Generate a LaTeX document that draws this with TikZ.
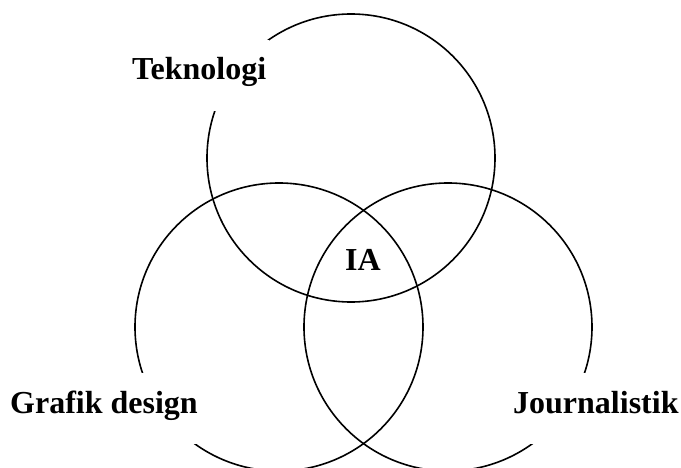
\documentclass[tikz,border=0pt]{standalone}
\usepackage{fontspec}
\setmainfont{Liberation Serif}
\begin{document}
\begin{tikzpicture}[x=1pt,y=-1pt,
  ring/.style={draw=black,line width=1.6pt},
  lbl/.style={fill=white,inner xsep=3pt,inner ysep=0pt,text height=40pt,text depth=31pt,
    font=\fontsize{32}{38}\selectfont\bfseries,anchor=base west}]
\useasboundingbox (0,0) rectangle (681,468);
\clip (0,0) rectangle (681,468);
\draw[ring] (351,158) circle[radius=144] coordinate (ctop);
\draw[ring] (279,327) circle[radius=144] coordinate (cleft);
\draw[ring] (448,327) circle[radius=144] coordinate (cright);
\node[lbl] (tek) at (129,80) {Teknologi};
\node[lbl] (graf) at (7,413) {Grafik design};
\node[lbl] (jour) at (510,413) {Journalistik};
\node[font=\fontsize{32}{38}\selectfont\bfseries,anchor=base,inner sep=0pt] (ia) at (363,271) {IA};
\end{tikzpicture}
\end{document}
